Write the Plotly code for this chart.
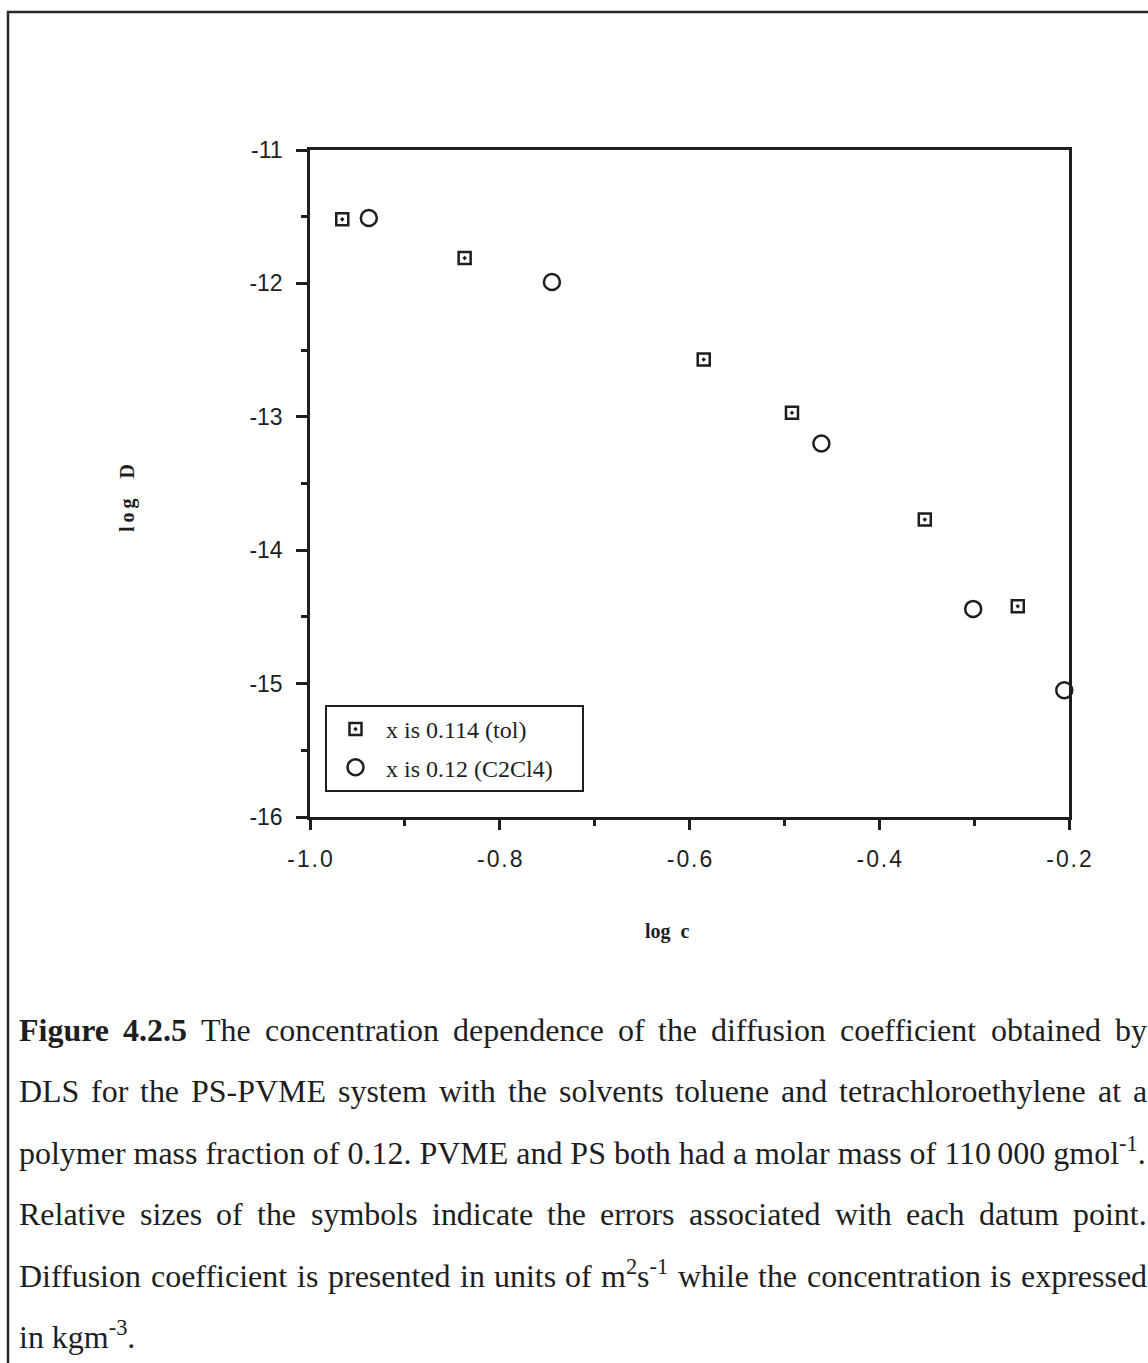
import re
import plotly.graph_objects as go

# ---------------- data ----------------
tol_logc = [-0.966, -0.837, -0.585, -0.492, -0.352, -0.254]
tol_logD = [-11.52, -11.81, -12.57, -12.97, -13.77, -14.42]

c2cl4_logc = [-0.938, -0.745, -0.461, -0.301, -0.205]
c2cl4_logD = [-11.51, -11.99, -13.20, -14.44, -15.05]

series_names = ["x is 0.114 (tol)", "x is 0.12 (C2Cl4)"]

x_tick_values = [-1.0, -0.8, -0.6, -0.4, -0.2]
x_tick_labels = ["-1.0", "-0.8", "-0.6", "-0.4", "-0.2"]
y_tick_values = [-16, -15, -14, -13, -12, -11]
y_tick_labels = ["-16", "-15", "-14", "-13", "-12", "-11"]

x_title = "log\u00a0\u00a0c"
y_title = "l\u2009o\u2009g\u00a0\u00a0\u00a0\u00a0D"

caption_lines = [
    "<b>Figure</b> <b>4.2.5</b> The concentration dependence of the diffusion coefficient obtained by",
    "DLS for the PS-PVME system with the solvents toluene and tetrachloroethylene at a",
    "polymer mass fraction of 0.12. PVME and PS both had a molar mass of 110\u2009000 gmol<sup>-1</sup>.",
    "Relative sizes of the symbols indicate the errors associated with each datum point.",
    "Diffusion coefficient is presented in units of m<sup>2</sup>s<sup>-1</sup> while the concentration is expressed",
    "in kgm<sup>-3</sup>.",
]
caption_justified = [True, True, False, True, True, False]

# ---------------- layout geometry (pixels) ----------------
W, H = 1148, 1363
PL, PR, PT, PB = 310, 1069, 150, 817  # plot area edges
PW, PH = PR - PL, PB - PT


def px(xp):
    return (xp - PL) / PW


def py(yp):
    return (PB - yp) / PH


INK = "#1e1e1e"
SANS = "Liberation Sans, Arial, sans-serif"
SERIF = "Liberation Serif, Times New Roman, serif"
LEGEND_PAD = "\u00a0" * 4  # widens the legend box to the right

# Times metrics (per 1000 em) for justified caption layout
TIMES = {' ': 250, '!': 333, '(': 333, ')': 333, ',': 250, '-': 333, '.': 250, ':': 278,
         '\u2009': 200,
         'A': 722, 'B': 667, 'C': 667, 'D': 722, 'E': 611, 'F': 556, 'G': 722, 'H': 722,
         'I': 333, 'J': 389, 'K': 722, 'L': 611, 'M': 889, 'N': 722, 'O': 722, 'P': 556,
         'Q': 722, 'R': 667, 'S': 556, 'T': 611, 'U': 722, 'V': 722, 'W': 944, 'X': 722,
         'Y': 722, 'Z': 611,
         'a': 444, 'b': 500, 'c': 444, 'd': 500, 'e': 444, 'f': 333, 'g': 500, 'h': 500,
         'i': 278, 'j': 278, 'k': 500, 'l': 278, 'm': 778, 'n': 500, 'o': 500, 'p': 500,
         'q': 500, 'r': 333, 's': 389, 't': 278, 'u': 500, 'v': 500, 'w': 722, 'x': 500,
         'y': 500, 'z': 444}
for d in "0123456789":
    TIMES[d] = 500
TIMES_BOLD = dict(TIMES)
TIMES_BOLD.update({'F': 611, 'u': 556, 'r': 444, 'g': 500, 'i': 278, 'e': 444})


def word_em(html):
    total, bold, sup = 0.0, False, False
    for tok in re.split(r'(<[^>]+>)', html):
        if tok == '<b>':
            bold = True
        elif tok == '</b>':
            bold = False
        elif tok == '<sup>':
            sup = True
        elif tok == '</sup>':
            sup = False
        else:
            for ch in tok:
                w = (TIMES_BOLD if bold else TIMES).get(ch, 500)
                total += w * (0.7 if sup else 1.0)
    return total / 1000.0


CAP_LEFT, CAP_RIGHT = 17, 1145
ref_words = caption_lines[2].split(' ')
ref_em = sum(word_em(w) for w in ref_words) + 0.25 * (len(ref_words) - 1)
CAP_FS = (1128) / ref_em
CAP_Y0, CAP_DY = 1043, 61.5  # baseline of first line, line pitch

fig = go.Figure()

fig.add_trace(go.Scatter(
    x=tol_logc, y=tol_logD, mode="markers", name=series_names[0] + LEGEND_PAD,
    legendgroup="a",
    marker=dict(symbol="square-open-dot", size=12, color=INK, line=dict(width=2.5, color=INK)),
    cliponaxis=False,
))
fig.add_trace(go.Scatter(
    x=c2cl4_logc, y=c2cl4_logD, mode="markers", name=series_names[1] + LEGEND_PAD,
    legendgroup="b",
    marker=dict(symbol="circle-open", size=16, color=INK, line=dict(width=2.5, color=INK)),
    cliponaxis=False,
))

annotations = []
# axis titles
annotations.append(dict(x=px(667), y=py(931), xref="paper", yref="paper",
                        text="<b>" + x_title + "</b>",
                        showarrow=False, font=dict(family=SERIF, size=20, color=INK),
                        xanchor="center", yanchor="middle"))
annotations.append(dict(x=px(127), y=py(498), xref="paper", yref="paper",
                        text="<b>" + y_title + "</b>",
                        showarrow=False, font=dict(family=SERIF, size=20, color=INK),
                        textangle=-90, xanchor="center", yanchor="middle"))

# caption
desc = 0.216 * CAP_FS
for i, (line, just) in enumerate(zip(caption_lines, caption_justified)):
    base = CAP_Y0 + i * CAP_DY
    ybot = py(base + desc)
    if not just:
        annotations.append(dict(x=px(CAP_LEFT), y=ybot, xref="paper", yref="paper", text=line,
                                showarrow=False, xanchor="left", yanchor="bottom",
                                font=dict(family=SERIF, size=CAP_FS, color=INK)))
        continue
    words = line.split(' ')
    widths = [word_em(w) * CAP_FS for w in words]
    gap = (CAP_RIGHT - CAP_LEFT - sum(widths)) / (len(words) - 1)
    xcur = CAP_LEFT
    for w, wd in zip(words, widths):
        annotations.append(dict(x=px(xcur), y=ybot, xref="paper", yref="paper", text=w,
                                showarrow=False, xanchor="left", yanchor="bottom",
                                font=dict(family=SERIF, size=CAP_FS, color=INK)))
        xcur += wd + gap

shapes = [
    # outer frame of the figure panel (extends beyond right/bottom edge)
    dict(type="rect", xref="paper", yref="paper",
         x0=px(8), x1=px(1160), y0=py(1380), y1=py(12),
         line=dict(color="#2a2a2a", width=2.5), fillcolor="rgba(0,0,0,0)", layer="below"),
]

axis_common = dict(
    showgrid=False, zeroline=False, showline=True, linecolor=INK, linewidth=2.5,
    mirror=True, ticks="outside", tickcolor=INK, tickwidth=2.5,
)

fig.update_layout(
    width=W, height=H,
    margin=dict(l=PL, r=W - PR, t=PT, b=H - PB, pad=0),
    paper_bgcolor="white", plot_bgcolor="white",
    showlegend=True,
    legend=dict(
        x=px(325), y=py(705), xanchor="left", yanchor="top",
        bordercolor=INK, borderwidth=2, bgcolor="white",
        font=dict(family=SERIF, size=24, color=INK),
        tracegroupgap=4, indentation=-2, itemwidth=51,
    ),
    xaxis=dict(
        range=[-1.0, -0.2], tickvals=x_tick_values,
        ticktext=["\u200a".join(list(t)) for t in x_tick_labels],
        ticklen=10, ticklabelstandoff=10,
        minor=dict(ticks="outside", ticklen=6, tickwidth=2.5, tickcolor=INK, dtick=0.1),
        tickfont=dict(family=SANS, size=23, color=INK),
        **axis_common,
    ),
    yaxis=dict(
        range=[-16, -11], tickvals=y_tick_values, ticktext=y_tick_labels,
        ticklen=11, ticklabelstandoff=9,
        minor=dict(ticks="outside", ticklen=6, tickwidth=2.5, tickcolor=INK, dtick=0.5),
        tickfont=dict(family=SANS, size=23, color=INK),
        **axis_common,
    ),
    annotations=annotations,
    shapes=shapes,
)

fig.write_html("out.html")
